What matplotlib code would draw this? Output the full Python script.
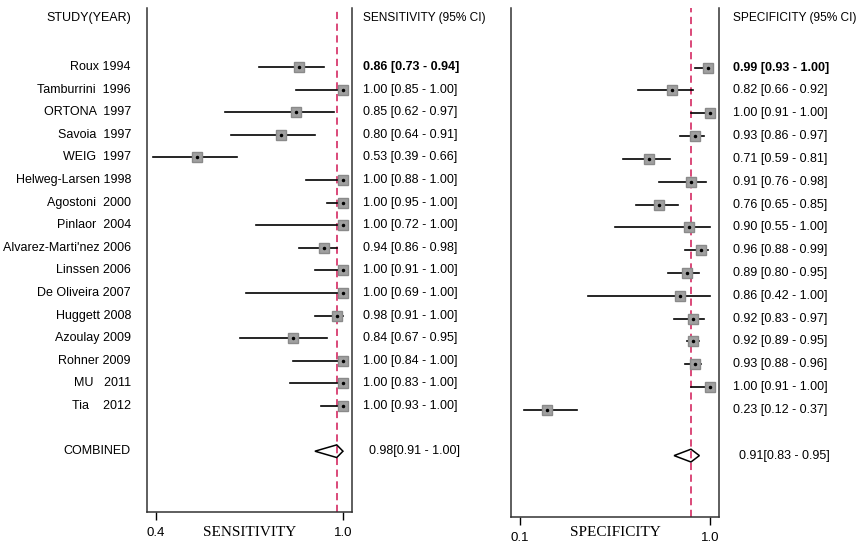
import numpy as np
import matplotlib.pyplot as plt
from matplotlib.transforms import blended_transform_factory
from matplotlib.patches import Polygon

plt.rcParams['font.family'] = ['Liberation Sans', 'DejaVu Sans']

# Study labels and estimates
studies = ["Roux 1994", "Tamburrini  1996", "ORTONA  1997", "Savoia  1997", "WEIG  1997",
           "Helweg-Larsen 1998", "Agostoni  2000", "Pinlaor  2004", "Alvarez-Marti'nez 2006",
           "Linssen 2006", "De Oliveira 2007", "Huggett 2008", "Azoulay 2009", "Rohner 2009",
           "MU   2011", "Tia    2012"]

sens = [0.86, 1.00, 0.85, 0.80, 0.53, 1.00, 1.00, 1.00, 0.94, 1.00, 1.00, 0.98, 0.84, 1.00, 1.00, 1.00]
sens_lo = [0.73, 0.85, 0.62, 0.64, 0.39, 0.88, 0.95, 0.72, 0.86, 0.91, 0.69, 0.91, 0.67, 0.84, 0.83, 0.93]
sens_hi = [0.94, 1.00, 0.97, 0.91, 0.66, 1.00, 1.00, 1.00, 0.98, 1.00, 1.00, 1.00, 0.95, 1.00, 1.00, 1.00]

spec = [0.99, 0.82, 1.00, 0.93, 0.71, 0.91, 0.76, 0.90, 0.96, 0.89, 0.86, 0.92, 0.92, 0.93, 1.00, 0.23]
spec_lo = [0.93, 0.66, 0.91, 0.86, 0.59, 0.76, 0.65, 0.55, 0.88, 0.80, 0.42, 0.83, 0.89, 0.88, 0.91, 0.12]
spec_hi = [1.00, 0.92, 1.00, 0.97, 0.81, 0.98, 0.85, 1.00, 0.99, 0.95, 1.00, 0.97, 0.95, 0.96, 1.00, 0.37]

sens_comb = (0.98, 0.91, 1.00)
spec_comb = (0.91, 0.83, 0.95)

fs = 9
fig = plt.figure(figsize=(8.6, 5.5), dpi=100)
ax1 = fig.add_axes([147/860, 1-512/550, 205/860, 504/550])
ax2 = fig.add_axes([511/860, 1-517/550, 208/860, 509/550])

rows = np.arange(len(studies))
comb_row = 17
ylim = (19.69, -2.61)
dash_col = '#d83a6e'


def forest(ax, est, lo, hi, comb, xlim, ticks, label, textx, header):
    for i in rows:
        ax.plot([lo[i], hi[i]], [i, i], color='black', lw=1.2, zorder=2)
    ax.plot(est, rows, 's', color='#a0a0a0', ms=6.5, mec='#8a8a8a', zorder=3)
    ax.plot(est, rows, '.', color='black', ms=3, zorder=4)
    e, l, h = comb
    dia = Polygon([[l, comb_row], [e, comb_row - 0.28], [h, comb_row], [e, comb_row + 0.28]],
                  closed=True, fill=False, ec='black', lw=1.1, zorder=3)
    ax.add_patch(dia)
    ax.axvline(e, color=dash_col, ls=(0, (4, 2.5)), lw=1.3, zorder=1)
    ax.set_xlim(*xlim)
    ax.set_ylim(*ylim)
    ax.set_yticks([])
    ax.set_xticks(ticks)
    ax.set_xticklabels(['%.1f' % t for t in ticks], fontsize=fs + 0.5)
    ax.tick_params(axis='x', direction='out', length=6, width=1, pad=5)
    ax.spines['top'].set_visible(False)
    for s in ['left', 'right', 'bottom']:
        ax.spines[s].set_color('#333333')
        ax.spines[s].set_linewidth(1.1)
    trx = blended_transform_factory(ax.transAxes, fig.transFigure)
    ax.text(0.5, 1 - 533/550, label, transform=trx, ha='center', va='center',
            family='Liberation Serif', fontsize=11)

    tr = blended_transform_factory(fig.transFigure, ax.transData)
    ax.text(textx/860, -2.17, header, transform=tr, ha='left', va='center', fontsize=8.6)
    for i in rows:
        ax.text(textx/860, i, '%.2f [%.2f - %.2f]' % (est[i], lo[i], hi[i]), transform=tr,
                ha='left', va='center', fontsize=fs, weight='bold' if i == 0 else 'normal')
    ax.text((textx + 6)/860, comb_row, '%.2f[%.2f - %.2f]' % comb, transform=tr,
            ha='left', va='center', fontsize=fs)


forest(ax1, sens, sens_lo, sens_hi, sens_comb, (0.371, 1.029), [0.4, 1.0],
       'SENSITIVITY', 363, 'SENSITIVITY (95% CI)')
forest(ax2, spec, spec_lo, spec_hi, spec_comb, (0.057, 1.043), [0.1, 1.0],
       'SPECIFICITY', 733, 'SPECIFICITY (95% CI)')

tr1 = blended_transform_factory(fig.transFigure, ax1.transData)
ax1.text(131/860, -2.17, 'STUDY(YEAR)', transform=tr1, ha='right', va='center', fontsize=fs)
for i in rows:
    ax1.text(131/860, i, studies[i], transform=tr1, ha='right', va='center', fontsize=fs)
ax1.text(131/860, comb_row, 'COMBINED', transform=tr1, ha='right', va='center', fontsize=fs)

fig.savefig('out.png', dpi=100)
